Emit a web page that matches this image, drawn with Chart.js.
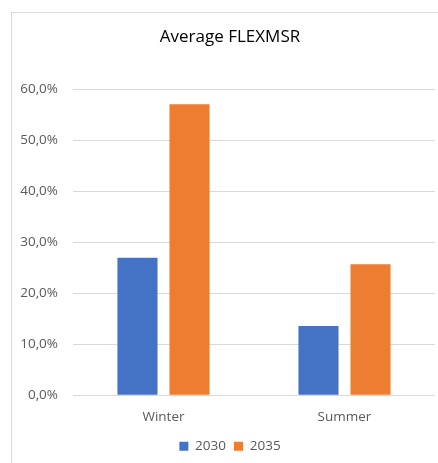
<!DOCTYPE html>
<html>
<head>
<meta charset="utf-8">
<script src="https://cdn.jsdelivr.net/npm/chart.js@4"></script>
<style>
    body { margin: 0; background: #fff; overflow: hidden; }
    #frame { position: absolute; left: 11px; top: 12px; width: 460px; height: 480px; border: 1px solid #d9d9d9; }
    #wrap { position: absolute; left: 0; top: 0; width: 462px; height: 463px; }
</style>
</head>
<body>
<div id="frame"></div>
<div id="wrap"><canvas id="chart" width="462" height="463"></canvas></div>
<script>
const categories = ['Winter', 'Summer'];
const series2030 = [0.270, 0.136];
const series2035 = [0.571, 0.257];
const seriesLabels = ['2030', '2035'];
const yTicks = [0, 0.1, 0.2, 0.3, 0.4, 0.5, 0.6];

const textColor = '#595959';
const fontFamily = '"Open Sans", "Noto Sans", sans-serif';

const pct = function(v) {
    return (v * 100).toFixed(1).replace('.', ',') + '%';
}

const buildChart = function() {
    new Chart(document.getElementById('chart'), {
        type: 'bar',
        data: {
            labels: categories,
            datasets: [{
                label: seriesLabels[0],
                data: series2030,
                backgroundColor: '#4472C4',
                barPercentage: 0.77,
                categoryPercentage: 0.575
            }, {
                label: seriesLabels[1],
                data: series2035,
                backgroundColor: '#ED7D31',
                barPercentage: 0.77,
                categoryPercentage: 0.575
            }]
        },
        options: {
            responsive: false,
            animation: false,
            layout: {
                padding: { left: 0, right: 2, top: 27, bottom: 0 }
            },
            plugins: {
                title: {
                    display: true,
                    text: 'Average FLEXMSR',
                    color: '#000',
                    font: { family: fontFamily, size: 17, weight: 'normal' },
                    padding: { top: 0, bottom: 42 }
                },
                legend: {
                    position: 'bottom',
                    labels: {
                        color: textColor,
                        font: { family: fontFamily, size: 13.5 },
                        boxWidth: 9,
                        boxHeight: 9,
                        padding: 8
                    }
                },
                tooltip: { enabled: false }
            },
            scales: {
                x: {
                    grid: { display: false },
                    border: { display: false },
                    ticks: {
                        color: textColor,
                        font: { family: fontFamily, size: 13.5 },
                        padding: 6
                    }
                },
                y: {
                    min: 0,
                    max: 0.6,
                    afterFit: function(scale) {
                        scale.width = 73;
                    },
                    afterBuildTicks: function(scale) {
                        scale.ticks = yTicks.map(function(v) { return { value: v }; });
                    },
                    grid: { color: '#d9d9d9', drawTicks: false },
                    border: { display: false },
                    ticks: {
                        color: textColor,
                        font: { family: fontFamily, size: 13.5 },
                        padding: 15,
                        callback: function(v) { return pct(v); }
                    }
                },
                // empty spacer on the right so the plot ends near x=435
                spacer: {
                    type: 'linear',
                    position: 'right',
                    afterFit: function(scale) {
                        scale.width = 25;
                    },
                    grid: { display: false },
                    border: { display: false },
                    ticks: { display: false }
                }
            }
        }
    });
}

buildChart();
</script>
</body>
</html>
